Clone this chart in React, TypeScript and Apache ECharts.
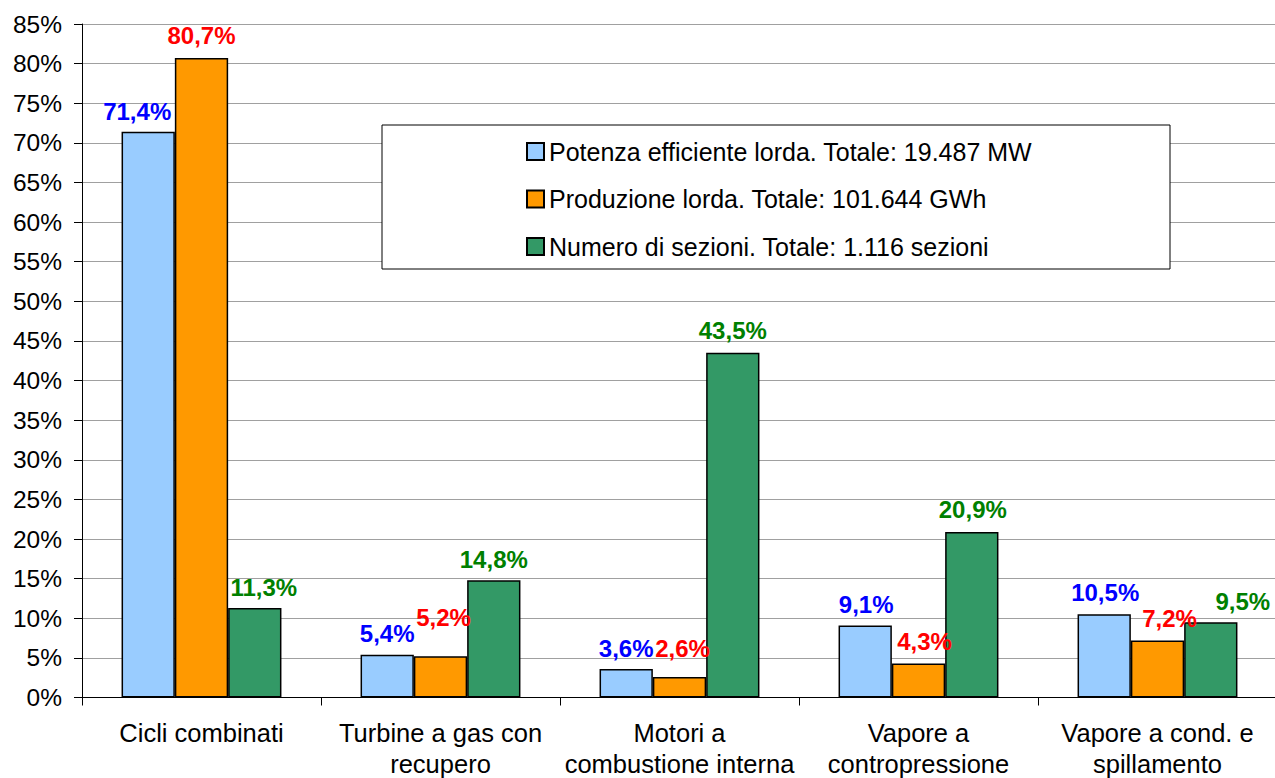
import React, { useEffect, useRef } from "react";
import * as echarts from "echarts";

const categories = [
  "Cicli combinati",
  "Turbine a gas con\nrecupero",
  "Motori a\ncombustione interna",
  "Vapore a\ncontropressione",
  "Vapore a cond. e\nspillamento",
];
const seriesNames = [
  "Potenza efficiente lorda. Totale: 19.487 MW",
  "Produzione lorda. Totale: 101.644 GWh",
  "Numero di sezioni. Totale: 1.116 sezioni",
];
const potenza = [71.4, 5.4, 3.6, 9.1, 10.5];
const produzione = [80.7, 5.2, 2.6, 4.3, 7.2];
const sezioni = [11.3, 14.8, 43.5, 20.9, 9.5];

// label nudges (style only)
const potenzaOffsets = [[-11, 2], [0, 1], [0, 2], [1, 1], [1, 0]];
const produzioneOffsets = [[0, -1], [3, -17], [3, -6], [6, 0], [12, 0]];
const sezioniOffsets = [[9, 2], [0, 1], [0, 0], [1, 0], [32, 1]];

const FONT = "Liberation Sans, Arial, sans-serif";

function fmt(v: number) {
  return v.toFixed(1).replace(".", ",") + "%";
}

function makeSeries(name: string, values: number[], offsets: number[][], fill: string, labelColor: string) {
  return {
    name,
    type: "bar",
    barWidth: "22.3%",
    barGap: "0%",
    itemStyle: { color: fill, borderColor: "#000", borderWidth: 1.5 },
    label: {
      show: true,
      position: "top",
      distance: 10,
      color: labelColor,
      fontWeight: "bold",
      fontSize: 24,
      fontFamily: FONT,
      formatter: (p: any) => fmt(p.value),
    },
    data: values.map((v, i) => ({ value: v, label: { offset: offsets[i] } })),
  };
}

export default function App() {
  const ref = useRef<HTMLDivElement>(null);
  useEffect(() => {
    if (!ref.current) return;
    const chart = echarts.init(ref.current, undefined, { renderer: "svg" });
    chart.setOption({
      animation: false,
      backgroundColor: "#fff",
      grid: {
        left: 82,
        top: 24,
        width: 1195,
        height: 673.5,
        containLabel: false,
        outerBoundsMode: "none",
      },
      xAxis: {
        type: "category",
        data: categories,
        axisLine: { lineStyle: { color: "#000", width: 1 } },
        axisTick: { show: true, length: 8, lineStyle: { color: "#000" } },
        axisLabel: {
          color: "#000",
          fontSize: 25.5,
          fontFamily: FONT,
          lineHeight: 31,
          margin: 20,
          interval: 0,
        },
      },
      yAxis: {
        type: "value",
        min: 0,
        max: 85,
        interval: 5,
        axisLine: { show: true, lineStyle: { color: "#000", width: 1 } },
        axisTick: { show: true, length: 8, lineStyle: { color: "#000" } },
        axisLabel: {
          color: "#000",
          fontSize: 24.5,
          fontFamily: FONT,
          margin: 20,
          formatter: "{value}%",
        },
        splitLine: { show: true, lineStyle: { color: "#a0a0a0", width: 1 } },
      },
      legend: {
        orient: "vertical",
        left: 526,
        top: 139,
        padding: 0,
        itemGap: 22.5,
        itemWidth: 17,
        itemHeight: 17,
        icon: "rect",
        z: 10,
        textStyle: { color: "#000", fontSize: 25, fontFamily: FONT, lineHeight: 24 },
        data: seriesNames,
      },
      graphic: [
        {
          type: "rect",
          z: 3,
          shape: { x: 382, y: 125, width: 788, height: 144 },
          style: { fill: "#fff", stroke: "#000", lineWidth: 1 },
        },
      ],
      series: [
        makeSeries(seriesNames[0], potenza, potenzaOffsets, "#99CCFF", "#0000FF"),
        makeSeries(seriesNames[1], produzione, produzioneOffsets, "#FF9900", "#FF0000"),
        makeSeries(seriesNames[2], sezioni, sezioniOffsets, "#339966", "#008000"),
      ],
    });
    return () => chart.dispose();
  }, []);
  return (
    <div
      style={{ position: "fixed", left: 0, top: 0, width: 1275, height: 778, overflow: "hidden" }}
    >
      <div ref={ref} style={{ width: 1275, height: 778 }} />
    </div>
  );
}
